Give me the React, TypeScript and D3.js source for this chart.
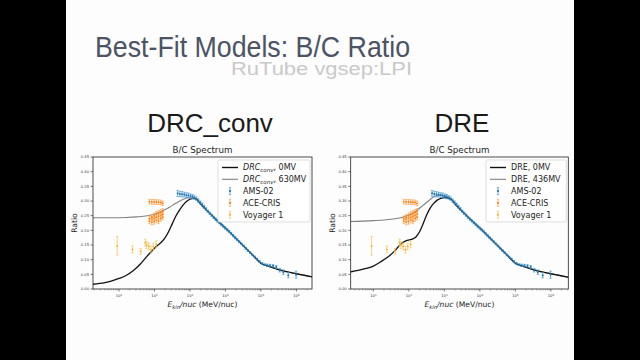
import React from "react";
import * as d3 from "d3";

const X_TICKS = [1e1, 1e2, 1e3, 1e4, 1e5, 1e6];
const X_TICK_EXP = ["1", "2", "3", "4", "5", "6"];
const Y_TICKS = [0, 0.05, 0.1, 0.15, 0.2, 0.25, 0.3, 0.35, 0.4, 0.45];
const Y_TICK_LABELS = ["0.00", "0.05", "0.10", "0.15", "0.20", "0.25", "0.30", "0.35", "0.40", "0.45"];

// shared high-energy part of the model curves (E in MeV/nuc, ratio)
const TAIL_E = [1778, 3162, 5623, 10000, 17783, 31623, 56234, 100000, 177828, 316228, 562341, 1000000, 1778279, 3200000];
const TAIL_R = [0.297, 0.265, 0.236, 0.208, 0.178, 0.148, 0.118, 0.088, 0.076, 0.066, 0.058, 0.052, 0.046, 0.040];

const DRC_BLACK_E = [1.8, 4, 6.3, 10, 15.8, 25, 40, 63, 100, 126, 158, 200, 251, 316, 398, 501, 631, 794, 1000, 1259, 1585];
const DRC_BLACK_R = [0.016, 0.022, 0.028, 0.036, 0.046, 0.062, 0.085, 0.113, 0.139, 0.15, 0.16, 0.175, 0.196, 0.222, 0.248, 0.268, 0.285, 0.298, 0.306, 0.309, 0.305];
const DRC_GRAY_E = [1.8, 6.3, 15.8, 31.6, 63, 100, 158, 251, 398, 631, 891, 1259, 1585];
const DRC_GRAY_R = [0.243, 0.243, 0.244, 0.246, 0.25, 0.256, 0.265, 0.277, 0.292, 0.305, 0.311, 0.31, 0.305];

const DRE_BLACK_E = [2, 4, 6.3, 10, 15.8, 25, 40, 56, 79, 100, 126, 158, 200, 251, 316, 398, 501, 631, 794, 1000, 1259, 1585];
const DRE_BLACK_R = [0.057, 0.064, 0.07, 0.078, 0.092, 0.108, 0.13, 0.15, 0.163, 0.167, 0.17, 0.177, 0.195, 0.222, 0.252, 0.276, 0.292, 0.303, 0.309, 0.312, 0.31, 0.305];
const DRE_GRAY_E = [2, 10, 31.6, 63, 100, 158, 251, 398, 562, 794, 1000, 1259, 1585];
const DRE_GRAY_R = [0.23, 0.233, 0.238, 0.244, 0.252, 0.266, 0.285, 0.305, 0.317, 0.32, 0.317, 0.311, 0.305];

const AMS_E = [450, 520, 600, 690, 790, 900, 1030, 1170, 1330, 1510, 1720, 1950, 2210, 2500, 2830, 3200, 3620, 4100, 4640, 5250, 5950, 6740, 7640, 8670, 9840, 11200, 12700, 14500, 16500, 18800, 21500, 24600, 28200, 32400, 37300, 43000, 49700, 57600, 66900, 78000, 91300, 107000, 127000, 151000, 181000, 220000, 270000, 340000, 430000, 590000, 980000];
const AMS_R = [0.326, 0.324, 0.323, 0.322, 0.32, 0.319, 0.317, 0.315, 0.312, 0.308, 0.301, 0.295, 0.288, 0.28, 0.273, 0.265, 0.258, 0.251, 0.244, 0.238, 0.232, 0.226, 0.22, 0.214, 0.208, 0.202, 0.196, 0.189, 0.182, 0.175, 0.168, 0.161, 0.154, 0.147, 0.139, 0.131, 0.124, 0.116, 0.109, 0.102, 0.094, 0.087, 0.083, 0.081, 0.08, 0.079, 0.075, 0.064, 0.057, 0.047, 0.049];
const AMS_ERR = [0.01, 0.009, 0.009, 0.008, 0.008, 0.008, 0.007, 0.007, 0.006, 0.006, 0.006, 0.005, 0.005, 0.005, 0.005, 0.004, 0.004, 0.004, 0.004, 0.004, 0.004, 0.004, 0.004, 0.004, 0.004, 0.004, 0.004, 0.004, 0.004, 0.004, 0.003, 0.003, 0.003, 0.003, 0.003, 0.003, 0.003, 0.003, 0.003, 0.003, 0.003, 0.003, 0.003, 0.004, 0.004, 0.004, 0.005, 0.006, 0.008, 0.009, 0.012];

const ACE_E = [72, 84, 98, 113, 130, 150, 170, 72, 72, 84, 84, 84, 98, 98, 98, 113, 113, 113, 130, 130, 130, 150, 150, 150, 170, 170, 170];
const ACE_R = [0.298, 0.297, 0.297, 0.296, 0.296, 0.295, 0.292, 0.232, 0.24, 0.228, 0.238, 0.245, 0.23, 0.242, 0.25, 0.235, 0.245, 0.255, 0.232, 0.248, 0.258, 0.24, 0.252, 0.262, 0.245, 0.255, 0.265];
const ACE_ERR = [0.008, 0.008, 0.008, 0.008, 0.008, 0.008, 0.008, 0.009, 0.009, 0.009, 0.009, 0.009, 0.009, 0.009, 0.009, 0.009, 0.009, 0.009, 0.009, 0.009, 0.009, 0.009, 0.009, 0.009, 0.009, 0.009, 0.009];

const VOY_E = [8.9, 24, 41, 55, 60, 69, 80, 93, 112];
const VOY_R = [0.147, 0.135, 0.128, 0.158, 0.15, 0.145, 0.134, 0.145, 0.152];
const VOY_ERR = [0.032, 0.012, 0.01, 0.012, 0.012, 0.012, 0.012, 0.012, 0.012];

const SLIDE_TITLE = "Best-Fit Models: B/C Ratio";
const WATERMARK = "RuTube vgsep:LPI";
const PANEL_TITLES = ["DRC_conv", "DRE"];
const PLOT_TITLE = "B/C Spectrum";
const DRE_LABELS = ["DRE, 0MV", "DRE, 436MV"];
const DRC_MV = [", 0MV", ", 630MV"];
const DATA_LABELS = ["AMS-02", "ACE-CRIS", "Voyager 1"];

const AMS_COLOR = "#1f77b4";
const ACE_COLOR = "#ff7f0e";
const VOY_COLOR = "#f4b43a";
const FONT = "DejaVu Sans, sans-serif";

type ChartProps = {
  left: number;
  right: number;
  top: number;
  bottom: number;
  xDomain: [number, number];
  blackE: number[];
  blackR: number[];
  grayE: number[];
  grayR: number[];
  legendLeft: number;
  clipId: string;
  drc: boolean;
};

function ErrPoints({ E, R, err, color, barColor, x, y, capW, r, xerr }: any) {
  return (
    <g>
      {E.map((e: number, i: number) => {
        const cx = x(e);
        const y1 = y(R[i] - err[i]);
        const y2 = y(R[i] + err[i]);
        return (
          <g key={i}>
            {xerr ? (
              <line x1={x(e / xerr)} x2={x(e * xerr)} y1={y(R[i])} y2={y(R[i])} stroke={barColor} strokeWidth={0.7} />
            ) : null}
            <line x1={cx} x2={cx} y1={y1} y2={y2} stroke={barColor} strokeWidth={0.8} />
            <line x1={cx - capW} x2={cx + capW} y1={y1} y2={y1} stroke={barColor} strokeWidth={0.7} />
            <line x1={cx - capW} x2={cx + capW} y1={y2} y2={y2} stroke={barColor} strokeWidth={0.7} />
            <circle cx={cx} cy={y(R[i])} r={r} fill={color} />
          </g>
        );
      })}
    </g>
  );
}

function Chart(p: ChartProps) {
  const x = d3.scaleLog().domain(p.xDomain).range([p.left, p.right]);
  const y = d3.scaleLinear().domain([0, 0.45]).range([p.bottom, p.top]);
  const line = d3
    .line<[number, number]>()
    .x((d) => x(d[0]))
    .y((d) => y(d[1]))
    .curve(d3.curveMonotoneX);
  const blackPts: [number, number][] = p.blackE.map((e, i) => [e, p.blackR[i]] as [number, number]).concat(TAIL_E.map((e, i) => [e, TAIL_R[i]] as [number, number]));
  const grayPts: [number, number][] = p.grayE.map((e, i) => [e, p.grayR[i]] as [number, number]).concat(TAIL_E.map((e, i) => [e, TAIL_R[i]] as [number, number]));

  const minor: number[] = [];
  for (let k = 0; k <= 6; k++) {
    for (let m = 2; m <= 9; m++) {
      const v = m * Math.pow(10, k);
      if (v > p.xDomain[0] && v < p.xDomain[1]) minor.push(v);
    }
  }
  const cx = (p.left + p.right) / 2;
  const lx = p.legendLeft;
  const lw = p.right - 2 - lx;
  const ly = p.top + 3;
  const rowY = (i: number) => ly + 7.5 + i * 11.8;

  return (
    <g fontFamily={FONT}>
      <defs>
        <clipPath id={p.clipId}>
          <rect x={p.left} y={p.top} width={p.right - p.left} height={p.bottom - p.top} />
        </clipPath>
      </defs>
      <text x={cx} y={p.top - 4} textAnchor="middle" fontSize={8.7} fill="#222">
        {PLOT_TITLE}
      </text>
      <g clipPath={`url(#${p.clipId})`}>
        <path d={line(grayPts) || ""} fill="none" stroke="#808080" strokeWidth={1.1} />
        <path d={line(blackPts) || ""} fill="none" stroke="#111" strokeWidth={1.3} />
        <ErrPoints E={VOY_E} R={VOY_R} err={VOY_ERR} color={VOY_COLOR} barColor="#f6c865" x={x} y={y} capW={1.2} r={0.9} xerr={1.06} />
        <ErrPoints E={ACE_E} R={ACE_R} err={ACE_ERR} color={ACE_COLOR} barColor="#fba552" x={x} y={y} capW={1.2} r={0.9} xerr={1.06} />
        <ErrPoints E={AMS_E} R={AMS_R} err={AMS_ERR} color={AMS_COLOR} barColor="#4c9ad0" x={x} y={y} capW={1.2} r={1} xerr={0} />
      </g>
      <rect x={p.left} y={p.top} width={p.right - p.left} height={p.bottom - p.top} fill="none" stroke="#222" strokeWidth={0.8} />
      {Y_TICKS.map((t, i) => (
        <g key={i}>
          <line x1={p.left - 2.5} x2={p.left} y1={y(t)} y2={y(t)} stroke="#222" strokeWidth={0.6} />
          <text x={p.left - 4} y={y(t) + 1.2} fontSize={3.7} textAnchor="end" fill="#333">
            {Y_TICK_LABELS[i]}
          </text>
        </g>
      ))}
      {minor.map((t, i) => (
        <line key={i} x1={x(t)} x2={x(t)} y1={p.bottom} y2={p.bottom + 1.4} stroke="#333" strokeWidth={0.4} />
      ))}
      {X_TICKS.map((t, i) => (
        <g key={i}>
          <line x1={x(t)} x2={x(t)} y1={p.bottom} y2={p.bottom + 2.5} stroke="#222" strokeWidth={0.6} />
          <text x={x(t)} y={p.bottom + 8} fontSize={3.7} textAnchor="middle" fill="#333">
            10
            <tspan fontSize={2.6} dy={-1.5}>
              {X_TICK_EXP[i]}
            </tspan>
          </text>
        </g>
      ))}
      <text x={cx} y={p.bottom + 18} fontSize={7.6} textAnchor="middle" fill="#222">
        <tspan fontStyle="italic">E</tspan>
        <tspan fontStyle="italic" fontSize={5.2} dy={1.6}>
          kin
        </tspan>
        <tspan fontStyle="italic" dy={-1.6}>
          /nuc
        </tspan>
        <tspan> (MeV/nuc)</tspan>
      </text>
      <text transform={`translate(${p.left - 16},${(p.top + p.bottom) / 2}) rotate(-90)`} fontSize={7.6} textAnchor="middle" fill="#222">
        Ratio
      </text>
      {/* legend */}
      <rect x={lx} y={ly} width={lw} height={62} rx={1.5} fill="#fff" fillOpacity={0.85} stroke="#d0d0d0" strokeWidth={0.7} />
      <line x1={lx + 4} x2={lx + 20} y1={rowY(0)} y2={rowY(0)} stroke="#111" strokeWidth={1.4} />
      <line x1={lx + 4} x2={lx + 20} y1={rowY(1)} y2={rowY(1)} stroke="#808080" strokeWidth={1.1} />
      {[AMS_COLOR, ACE_COLOR, VOY_COLOR].map((c, i) => {
        const yy = rowY(2 + i);
        const bar = ["#4c9ad0", "#fba552", "#f6c865"][i];
        return (
          <g key={i}>
            <line x1={lx + 12} x2={lx + 12} y1={yy - 3.5} y2={yy + 3.5} stroke={bar} strokeWidth={0.8} />
            <line x1={lx + 10.8} x2={lx + 13.2} y1={yy - 3.5} y2={yy - 3.5} stroke={bar} strokeWidth={0.7} />
            <line x1={lx + 10.8} x2={lx + 13.2} y1={yy + 3.5} y2={yy + 3.5} stroke={bar} strokeWidth={0.7} />
            <circle cx={lx + 12} cy={yy} r={1.1} fill={c} />
            <text x={lx + 25} y={yy + 2.8} fontSize={8} fill="#222">
              {DATA_LABELS[i]}
            </text>
          </g>
        );
      })}
      {p.drc ? (
        [0, 1].map((i) => (
          <text key={i} x={lx + 25} y={rowY(i) + 2.8} fontSize={8} fill="#222">
            <tspan fontStyle="italic">DRC</tspan>
            <tspan fontStyle="italic" fontSize={5.5} dy={1.5}>
              conv
            </tspan>
            <tspan dy={-1.5}>{DRC_MV[i]}</tspan>
          </text>
        ))
      ) : (
        [0, 1].map((i) => (
          <text key={i} x={lx + 25} y={rowY(i) + 2.8} fontSize={8} fill="#222">
            {DRE_LABELS[i]}
          </text>
        ))
      )}
    </g>
  );
}

export default function App() {
  return (
    <div style={{ position: "fixed", left: 0, top: 0, width: 640, height: 360 }}>
      <svg width={640} height={360} viewBox="0 0 640 360" style={{ display: "block" }}>
        <rect x={0} y={0} width={640} height={360} fill="#000" />
        <rect x={66} y={0} width={508} height={360} fill="#fdfdfd" />
        <text x={95} y={57} fontFamily="Liberation Sans, Arial, sans-serif" fontSize={30} fill="#4b5364" textLength={315} lengthAdjust="spacingAndGlyphs">
          {SLIDE_TITLE}
        </text>
        <text x={231} y={75} fontFamily="Liberation Sans, Arial, sans-serif" fontSize={18} fill="#c9c9c9" textLength={181} lengthAdjust="spacingAndGlyphs">
          {WATERMARK}
        </text>
        <text x={210} y={132} fontFamily="Liberation Sans, Arial, sans-serif" fontSize={26} fill="#1a1a1a" textAnchor="middle">
          {PANEL_TITLES[0]}
        </text>
        <text x={462} y={132} fontFamily="Liberation Sans, Arial, sans-serif" fontSize={26} fill="#1a1a1a" textAnchor="middle">
          {PANEL_TITLES[1]}
        </text>
        <Chart left={93} right={312} top={157} bottom={289} xDomain={[1.85, 2.75e6]} blackE={DRC_BLACK_E} blackR={DRC_BLACK_R} grayE={DRC_GRAY_E} grayR={DRC_GRAY_R} legendLeft={218} clipId="c1" drc={true} />
        <Chart left={350.7} right={568.3} top={157} bottom={289} xDomain={[2.3, 3.1e6]} blackE={DRE_BLACK_E} blackR={DRE_BLACK_R} grayE={DRE_GRAY_E} grayR={DRE_GRAY_R} legendLeft={486} clipId="c2" drc={false} />
      </svg>
    </div>
  );
}
